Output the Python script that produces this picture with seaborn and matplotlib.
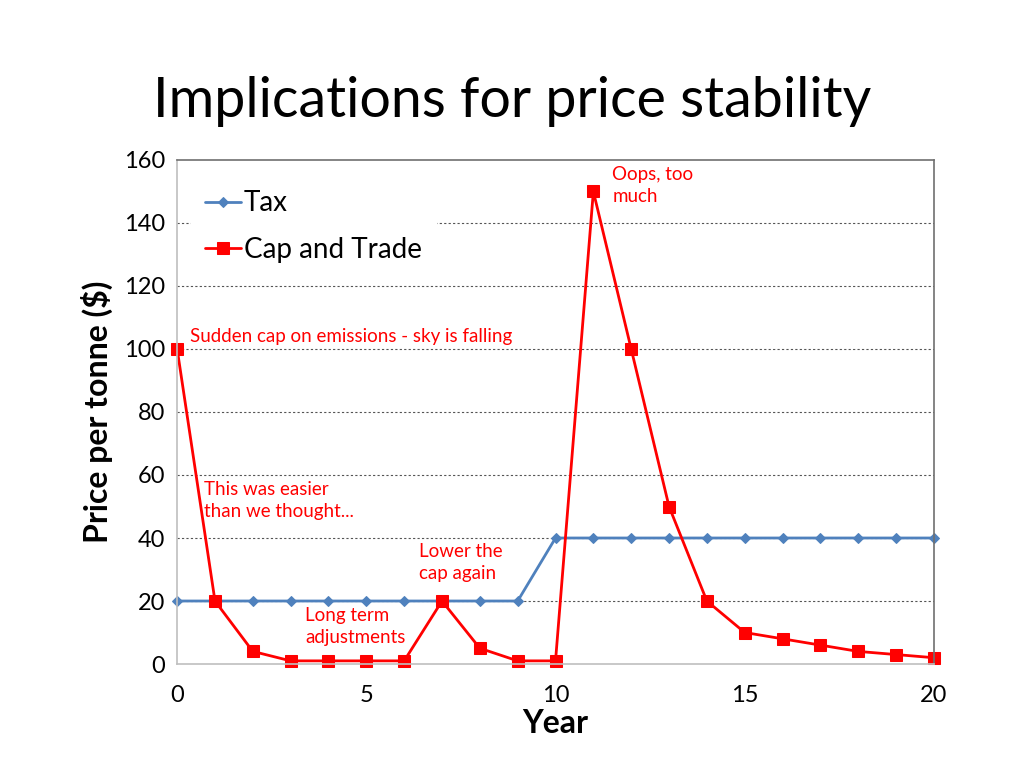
import pandas as pd
import numpy as np

import matplotlib.pyplot as plt
import seaborn as sns


# DATA
years = list(range(0, 21))

tax = [20, 20, 20, 20, 20, 20, 20, 20, 20, 20,
       40, 40, 40, 40, 40, 40, 40, 40, 40, 40, 40]

cap_trade = [100, 20, 4, 1, 1, 1, 1, 20, 5, 1,
             1, 150, 100, 50, 20, 10, 8, 6, 4, 3, 2]

notes = [
    "Oops, too\nmuch",
    "Sudden cap on emissions - sky is falling",
    "This was easier\nthan we thought...",
    "Lower the\ncap again",
    "Long term\nadjustments",
]
note_x = [11.5, 0.35, 0.7, 6.38, 3.38]
note_y = [158, 104, 58, 38.5, 18]
note_va = ["top", "center", "top", "top", "top"]


# STYLE
sns.set_style("white")
plt.rcParams['font.family'] = ['Lato', 'DejaVu Sans']
plt.rcParams['text.color'] = 'black'
plt.rcParams['axes.labelcolor'] = 'black'
plt.rcParams['xtick.color'] = 'black'
plt.rcParams['ytick.color'] = 'black'

fig = plt.figure(figsize=(10.24, 7.68), dpi=100)
ax = fig.add_axes([0.173, 0.1354, 0.739, 0.6563])


# LINES
sns.lineplot(
    x=years,
    y=tax,
    ax=ax,
    color='#4F81BD',
    marker='D',
    markersize=5,
    markeredgecolor='#4F81BD',
    linewidth=2,
    label='Tax',
    clip_on=False
)

sns.lineplot(
    x=years,
    y=cap_trade,
    ax=ax,
    color='#FF0000',
    marker='s',
    markersize=8,
    markeredgecolor='#FF0000',
    linewidth=2,
    label='Cap and Trade',
    clip_on=False
)


# AXES
ax.set_xlim(0, 20)
ax.set_ylim(0, 160)
ax.set_xticks([0, 5, 10, 15, 20])
ax.set_yticks(range(0, 161, 20))

ax.tick_params(axis='both', labelsize=17, length=5, color='#BFBFBF',
               labelcolor='black', direction='out')
ax.tick_params(axis='x', pad=10)

for y in range(20, 160, 20):
    ax.axhline(y, color='#555555', linestyle=(0, (2, 2)), linewidth=0.8,
               zorder=0)

ax.spines['left'].set_color('#BFBFBF')
ax.spines['bottom'].set_color('#BFBFBF')
ax.spines['top'].set_color('#707070')
ax.spines['right'].set_color('#707070')
for s in ax.spines.values():
    s.set_linewidth(1.2)

ax.set_xlabel("Year", fontsize=23, fontweight='bold', labelpad=2)
ax.set_ylabel("Price per tonne ($)", fontsize=23, fontweight='bold',
              labelpad=8)


# ANNOTATIONS
for t, x, y, va in zip(notes, note_x, note_y, note_va):
    ax.text(x, y, t, color='#FF0000', fontsize=13.5, ha='left', va=va,
            linespacing=1.35)


# LEGEND
leg = ax.legend(
    loc='upper left',
    bbox_to_anchor=(0.0, 0.995),
    fontsize=20,
    frameon=True,
    handlelength=1.3,
    handletextpad=0.1,
    labelspacing=0.75,
    borderpad=0.5,
    fancybox=False
)
leg.get_frame().set_edgecolor('white')
leg.get_frame().set_alpha(1)


# TITLE
fig.text(0.5, 0.868, "Implications for price stability", fontsize=40,
         ha='center', va='center')

plt.savefig("out.png", dpi=100)
